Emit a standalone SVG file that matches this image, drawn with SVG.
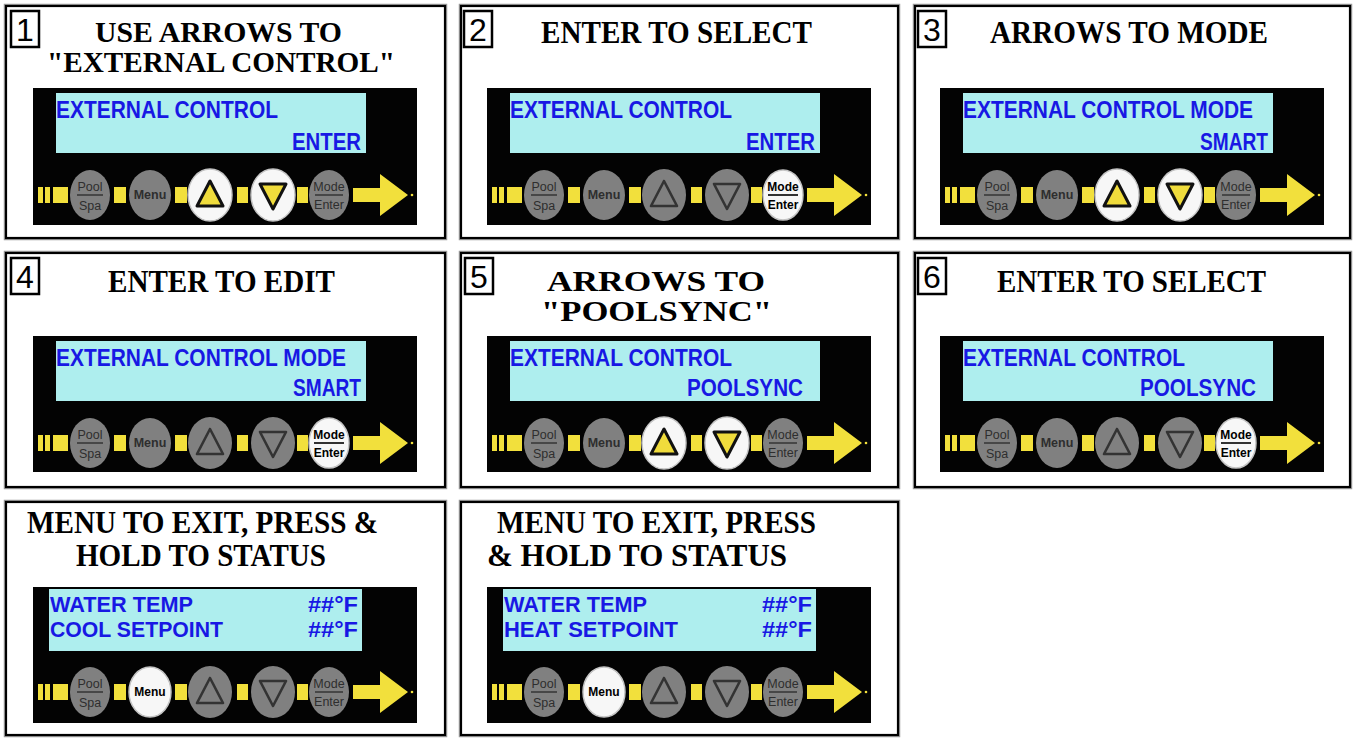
<svg xmlns="http://www.w3.org/2000/svg" xmlns:xlink="http://www.w3.org/1999/xlink" width="1353" height="738" viewBox="0 0 1353 738">
<style>
.frame{fill:#fff;stroke:#000;stroke-width:2.2}
.halo{fill:none;stroke:#9a9a9a;stroke-width:4.5}
.nbox{fill:#fff;stroke:#000;stroke-width:2.5}
.num{font-family:"Liberation Sans",Arial,sans-serif;font-size:32px;fill:#000;text-anchor:middle}
.title{font-family:"Liberation Serif","Times New Roman",serif;font-weight:bold;font-size:32px;fill:#000}
.t2{font-size:29px}
.lcdbg{fill:#030303}
.cyan{fill:#aeeeee}
.lcd{font-family:"Liberation Sans",Arial,sans-serif;font-weight:bold;font-size:24px;fill:#1818e4}
.lcd3{font-family:"Liberation Sans",Arial,sans-serif;font-weight:bold;font-size:22px;fill:#1818e4}
.yel{fill:#f2e03c}
.bg{fill:#808080}
.bw{fill:#f7f7f7;stroke:#c4c4c4;stroke-width:1.5}
.bt{font-family:"Liberation Sans",Arial,sans-serif;font-size:12.5px;fill:#2e2e2e;text-anchor:middle}
.btw{font-family:"Liberation Sans",Arial,sans-serif;font-size:12px;font-weight:bold;fill:#000;text-anchor:middle}
.tg{fill:none;stroke:#333;stroke-width:2.6;stroke-linejoin:round}
.tw{fill:#f0dc3c;stroke:#111;stroke-width:3;stroke-linejoin:round}
.ln{stroke:#2e2e2e;stroke-width:1.4}
.lnw{stroke:#000;stroke-width:1.6}
</style>
<defs>
<g id="strip">
<rect class="yel" x="5" y="-8" width="5" height="16"/>
<rect class="yel" x="12" y="-8" width="5" height="16"/>
<rect class="yel" x="20" y="-8" width="15" height="16"/>
<rect class="yel" x="81" y="-8" width="12" height="16"/>
<rect class="yel" x="142" y="-8" width="12" height="16"/>
<rect class="yel" x="204" y="-8" width="11" height="16"/>
<rect class="yel" x="264" y="-8" width="11" height="16"/>
<polygon class="yel" points="320,-7 347,-7 347,-21 375,0 347,21 347,7 320,7"/>
<circle class="yel" cx="379" cy="0" r="1.3"/>
</g>
<g id="bPool"><ellipse class="bg" rx="20" ry="25"/><text class="bt" y="-4">Pool</text><line class="ln" x1="-13" y1="0" x2="13" y2="0"/><text class="bt" y="15">Spa</text></g>
<g id="bMenu"><ellipse class="bg" rx="21" ry="25"/><text class="bt" y="4" font-size="12" font-weight="bold">Menu</text></g>
<g id="bMenuW"><ellipse class="bw" rx="21" ry="25"/><text class="btw" y="4">Menu</text></g>
<g id="bUp"><ellipse class="bg" rx="22" ry="26"/><path class="tg" d="M0,-14 L-13,11 L13,11 Z"/></g>
<g id="bUpW"><ellipse class="bw" rx="22" ry="26"/><path class="tw" d="M0,-14 L-13,11 L13,11 Z"/></g>
<g id="bDown"><ellipse class="bg" rx="22" ry="26"/><path class="tg" d="M0,14 L-13,-11 L13,-11 Z"/></g>
<g id="bDownW"><ellipse class="bw" rx="22" ry="26"/><path class="tw" d="M0,14 L-13,-11 L13,-11 Z"/></g>
<g id="bMode"><ellipse class="bg" rx="20" ry="25"/><text class="bt" y="-4" font-size="11.5">Mode</text><line class="ln" x1="-14" y1="0" x2="14" y2="0"/><text class="bt" y="14" font-size="11.5">Enter</text></g>
<g id="bModeW"><ellipse class="bw" rx="20" ry="25"/><text class="btw" y="-4">Mode</text><line class="lnw" x1="-15" y1="0" x2="15" y2="0"/><text class="btw" y="14">Enter</text></g>
</defs>

<g id="connectors"/>

<g id="panel1">
<rect class="halo" x="6" y="6" width="439" height="232"/><rect class="frame" x="6" y="6" width="439" height="232"/>
<rect class="nbox" x="11" y="11" width="28" height="36"/><text class="num" x="25" y="41">1</text>
<text class="title t2" x="95" y="42" textLength="247" lengthAdjust="spacingAndGlyphs">USE ARROWS TO</text>
<text class="title t2" x="47" y="72" textLength="348" lengthAdjust="spacingAndGlyphs">"EXTERNAL CONTROL"</text>
<rect class="lcdbg" x="33" y="88" width="384" height="137"/>
<rect class="cyan" x="56" y="93" width="310" height="60"/>
<text class="lcd" x="56" y="118" textLength="222" lengthAdjust="spacingAndGlyphs">EXTERNAL CONTROL</text>
<text class="lcd" x="292" y="150" textLength="69" lengthAdjust="spacingAndGlyphs">ENTER</text>
<g transform="translate(33,195)"><use href="#strip"/><use href="#bPool" x="57"/><use href="#bMenu" x="117"/><use href="#bUpW" x="177"/><use href="#bDownW" x="240"/><use href="#bMode" x="296"/></g>
</g>

<g id="panel2">
<rect class="halo" x="461" y="6" width="437" height="232"/><rect class="frame" x="461" y="6" width="437" height="232"/>
<rect class="nbox" x="464" y="11" width="28" height="36"/><text class="num" x="478" y="41">2</text>
<text class="title" x="541" y="43" textLength="271" lengthAdjust="spacingAndGlyphs">ENTER TO SELECT</text>
<rect class="lcdbg" x="487" y="88" width="384" height="137"/>
<rect class="cyan" x="510" y="93" width="310" height="60"/>
<text class="lcd" x="510" y="118" textLength="222" lengthAdjust="spacingAndGlyphs">EXTERNAL CONTROL</text>
<text class="lcd" x="746" y="150" textLength="69" lengthAdjust="spacingAndGlyphs">ENTER</text>
<g transform="translate(487,195)"><use href="#strip"/><use href="#bPool" x="57"/><use href="#bMenu" x="117"/><use href="#bUp" x="177"/><use href="#bDown" x="240"/><use href="#bModeW" x="296"/></g>
</g>

<g id="panel3">
<rect class="halo" x="915" y="6" width="435" height="232"/><rect class="frame" x="915" y="6" width="435" height="232"/>
<rect class="nbox" x="918" y="11" width="28" height="36"/><text class="num" x="932" y="41">3</text>
<text class="title" x="990" y="43" textLength="278" lengthAdjust="spacingAndGlyphs">ARROWS TO MODE</text>
<rect class="lcdbg" x="940" y="88" width="384" height="137"/>
<rect class="cyan" x="963" y="93" width="310" height="60"/>
<text class="lcd" x="963" y="118" textLength="290" lengthAdjust="spacingAndGlyphs">EXTERNAL CONTROL MODE</text>
<text class="lcd" x="1200" y="150" textLength="68" lengthAdjust="spacingAndGlyphs">SMART</text>
<g transform="translate(940,195)"><use href="#strip"/><use href="#bPool" x="57"/><use href="#bMenu" x="117"/><use href="#bUpW" x="177"/><use href="#bDownW" x="240"/><use href="#bMode" x="296"/></g>
</g>

<g id="panel4">
<rect class="halo" x="6" y="253" width="439" height="234"/><rect class="frame" x="6" y="253" width="439" height="234"/>
<rect class="nbox" x="11" y="258" width="28" height="36"/><text class="num" x="25" y="288">4</text>
<text class="title" x="108" y="292" textLength="227" lengthAdjust="spacingAndGlyphs">ENTER TO EDIT</text>
<rect class="lcdbg" x="33" y="336" width="384" height="136"/>
<rect class="cyan" x="56" y="341" width="310" height="60"/>
<text class="lcd" x="56" y="366" textLength="290" lengthAdjust="spacingAndGlyphs">EXTERNAL CONTROL MODE</text>
<text class="lcd" x="293" y="396" textLength="68" lengthAdjust="spacingAndGlyphs">SMART</text>
<g transform="translate(33,443)"><use href="#strip"/><use href="#bPool" x="57"/><use href="#bMenu" x="117"/><use href="#bUp" x="177"/><use href="#bDown" x="240"/><use href="#bModeW" x="296"/></g>
</g>

<g id="panel5">
<rect class="halo" x="461" y="253" width="437" height="234"/><rect class="frame" x="461" y="253" width="437" height="234"/>
<rect class="nbox" x="465" y="258" width="28" height="36"/><text class="num" x="479" y="288">5</text>
<text class="title t2" x="547" y="291" textLength="218" lengthAdjust="spacingAndGlyphs">ARROWS TO</text>
<text class="title t2" x="541" y="321" textLength="231" lengthAdjust="spacingAndGlyphs">"POOLSYNC"</text>
<rect class="lcdbg" x="487" y="336" width="384" height="136"/>
<rect class="cyan" x="510" y="341" width="310" height="60"/>
<text class="lcd" x="510" y="366" textLength="222" lengthAdjust="spacingAndGlyphs">EXTERNAL CONTROL</text>
<text class="lcd" x="687" y="396" textLength="116" lengthAdjust="spacingAndGlyphs">POOLSYNC</text>
<g transform="translate(487,443)"><use href="#strip"/><use href="#bPool" x="57"/><use href="#bMenu" x="117"/><use href="#bUpW" x="177"/><use href="#bDownW" x="240"/><use href="#bMode" x="296"/></g>
</g>

<g id="panel6">
<rect class="halo" x="915" y="253" width="435" height="234"/><rect class="frame" x="915" y="253" width="435" height="234"/>
<rect class="nbox" x="918" y="258" width="28" height="36"/><text class="num" x="932" y="288">6</text>
<text class="title" x="997" y="292" textLength="269" lengthAdjust="spacingAndGlyphs">ENTER TO SELECT</text>
<rect class="lcdbg" x="940" y="336" width="384" height="136"/>
<rect class="cyan" x="963" y="341" width="310" height="60"/>
<text class="lcd" x="963" y="366" textLength="222" lengthAdjust="spacingAndGlyphs">EXTERNAL CONTROL</text>
<text class="lcd" x="1140" y="396" textLength="116" lengthAdjust="spacingAndGlyphs">POOLSYNC</text>
<g transform="translate(940,443)"><use href="#strip"/><use href="#bPool" x="57"/><use href="#bMenu" x="117"/><use href="#bUp" x="177"/><use href="#bDown" x="240"/><use href="#bModeW" x="296"/></g>
</g>

<g id="panel7">
<rect class="halo" x="6" y="502" width="439" height="233"/><rect class="frame" x="6" y="502" width="439" height="233"/>
<text class="title" x="27" y="533" textLength="351" lengthAdjust="spacingAndGlyphs">MENU TO EXIT, PRESS &amp;</text>
<text class="title" x="76" y="566" textLength="250" lengthAdjust="spacingAndGlyphs">HOLD TO STATUS</text>
<rect class="lcdbg" x="33" y="587" width="384" height="136"/>
<rect class="cyan" x="49" y="589" width="313" height="62"/>
<text class="lcd3" x="50" y="612" textLength="143" lengthAdjust="spacingAndGlyphs">WATER TEMP</text>
<text class="lcd3" x="308" y="612" textLength="50" lengthAdjust="spacingAndGlyphs">##°F</text>
<text class="lcd3" x="50" y="637" textLength="173" lengthAdjust="spacingAndGlyphs">COOL SETPOINT</text>
<text class="lcd3" x="308" y="637" textLength="50" lengthAdjust="spacingAndGlyphs">##°F</text>
<g transform="translate(33,692)"><use href="#strip"/><use href="#bPool" x="57"/><use href="#bMenuW" x="117"/><use href="#bUp" x="177"/><use href="#bDown" x="240"/><use href="#bMode" x="296"/></g>
</g>

<g id="panel8">
<rect class="halo" x="461" y="502" width="437" height="233"/><rect class="frame" x="461" y="502" width="437" height="233"/>
<text class="title" x="497" y="533" textLength="319" lengthAdjust="spacingAndGlyphs">MENU TO EXIT, PRESS</text>
<text class="title" x="487" y="566" textLength="300" lengthAdjust="spacingAndGlyphs">&amp; HOLD TO STATUS</text>
<rect class="lcdbg" x="487" y="587" width="384" height="136"/>
<rect class="cyan" x="503" y="589" width="313" height="62"/>
<text class="lcd3" x="504" y="612" textLength="143" lengthAdjust="spacingAndGlyphs">WATER TEMP</text>
<text class="lcd3" x="762" y="612" textLength="50" lengthAdjust="spacingAndGlyphs">##°F</text>
<text class="lcd3" x="504" y="637" textLength="174" lengthAdjust="spacingAndGlyphs">HEAT SETPOINT</text>
<text class="lcd3" x="762" y="637" textLength="50" lengthAdjust="spacingAndGlyphs">##°F</text>
<g transform="translate(487,692)"><use href="#strip"/><use href="#bPool" x="57"/><use href="#bMenuW" x="117"/><use href="#bUp" x="177"/><use href="#bDown" x="240"/><use href="#bMode" x="296"/></g>
</g>
</svg>
